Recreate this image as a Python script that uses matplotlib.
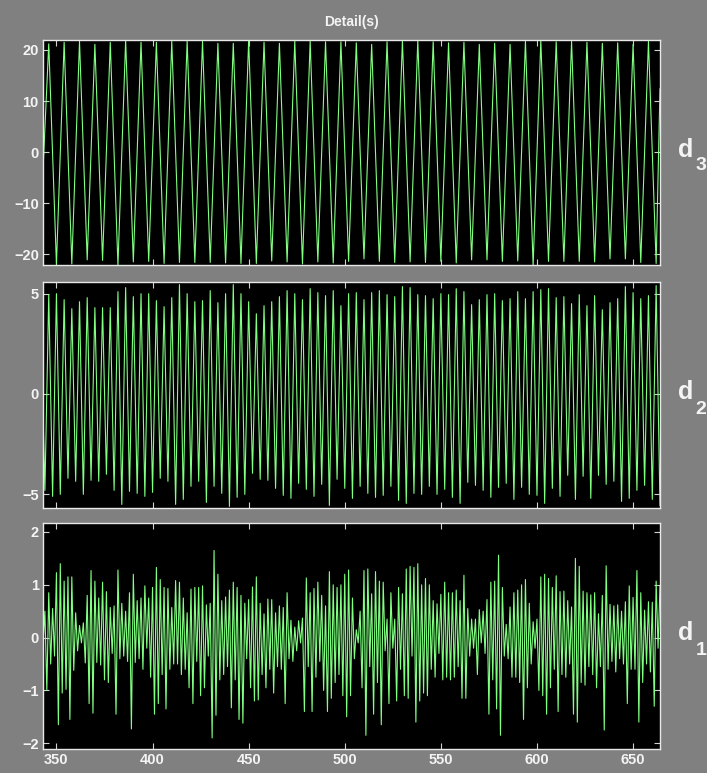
import numpy as np
import matplotlib
matplotlib.use("Agg")
import matplotlib.pyplot as plt

plt.rcParams['font.family'] = ['Liberation Sans', 'DejaVu Sans']

# ---- data ----------------------------------------------------------------
# d3 : turning points (sample index, value)
d3_start = (343, -3.6)
d3_peak_x0, d3_trough_x0, d3_step = 346, 350, 8
d3_peaks = [21.2, 21.5, 21.7, 21.1, 21.5, 21.9, 21.5, 21.5, 21.7, 21.7,
            21.7, 21.3, 21.3, 21.9, 21.5, 21.3, 21.7, 21.7, 21.6, 21.6,
            21.4, 21.1, 21.6, 21.9, 21.9, 21.6, 21.4, 21.5, 21.1, 21.3,
            21.1, 21.7, 21.9, 21.6, 21.7, 21.5, 21.3, 21.4, 21.1, 21.7]
d3_troughs = [-22.0, -21.9, -21.1, -21.2, -22.2, -21.5, -21.4, -21.8, -21.6, -21.6,
              -21.6, -21.7, -21.8, -21.8, -21.3, -21.5, -21.9, -21.5, -21.7, -21.4,
              -20.9, -21.4, -21.6, -21.5, -21.6, -21.4, -21.7, -21.1, -21.1, -21.4,
              -21.3, -22.2, -21.4, -21.4, -21.4, -21.5, -20.9, -20.9, -21.6, -21.8]
d3_end = (664, 12.4)

# d2 : turning points
d2_start = (343, -0.9)
d2_peak_x0, d2_trough_x0, d2_step = 346, 344, 4
d2_peaks = [4.95, 5.0, 4.7, 4.25, 4.6, 4.8, 4.3, 4.3, 4.3, 5.1,
            5.3, 4.85, 5.0, 5.0, 4.65, 4.35, 4.8, 5.45, 5.0, 4.6,
            4.65, 5.15, 4.55, 5.0, 5.45, 5.0, 4.6, 4.0, 4.4, 4.6,
            4.85, 5.15, 5.0, 4.7, 5.25, 5.05, 4.9, 5.15, 4.4, 5.0,
            5.05, 4.7, 5.05, 5.15, 4.95, 4.85, 5.35, 5.3, 4.95, 4.9,
            4.75, 5.0, 4.95, 5.25, 5.1, 4.45, 4.7, 4.95, 5.0, 4.65,
            4.75, 5.1, 4.75, 5.1, 5.2, 5.25, 4.8, 4.85, 4.5, 4.95,
            4.4, 4.9, 4.2, 4.55, 4.75, 5.35, 5.05, 4.75, 4.9, 5.4]
d2_troughs = [-4.8, -5.1, -5.0, -4.2, -4.35, -5.0, -4.3, -4.35, -4.0, -4.8,
              -5.5, -4.85, -4.95, -5.1, -4.9, -4.2, -4.35, -5.5, -5.25, -4.6,
              -4.35, -5.4, -4.6, -4.95, -5.6, -5.15, -5.0, -3.95, -4.25, -4.3,
              -4.7, -5.05, -5.2, -4.45, -4.75, -5.1, -4.5, -5.55, -4.25, -4.7,
              -5.2, -4.6, -4.95, -5.15, -5.05, -4.6, -5.3, -5.45, -4.95, -5.0,
              -4.6, -5.0, -4.75, -5.15, -5.45, -4.4, -4.55, -4.8, -5.15, -4.65,
              -4.45, -5.25, -4.65, -5.0, -5.05, -5.45, -4.7, -5.1, -4.05, -5.25,
              -4.1, -5.2, -4.05, -4.5, -4.35, -5.35, -5.2, -4.8, -4.55, -5.25]
d2_end = (664, -5.55)

# d1 : every sample, 343..664 (first value, then highs on even, lows on odd)
d1_first = -0.1
d1_highs = [0.5, 0.85, 0.55, 1.23, 1.4, 1.07, 1.15, 1.15, 0.47, 0.23,
            0.28, 0.8, 1.27, 1.07, 0.75, 1.05, 0.87, 0.57, 0.6, 1.28,
            0.65, 0.5, 0.85, 1.2, 0.7, 0.75, 0.98, 0.75, 0.95, 1.33,
            1.1, 0.95, 0.93, 0.57, 1.08, 1.05, 0.75, 0.47, 0.92, 0.95,
            0.95, 0.98, 0.62, 0.65, 1.65, 1.2, 0.7, 0.77, 0.9, 1.05,
            0.95, 0.8, 0.65, 0.72, 0.96, 1.15, 0.65, 0.45, 0.73, 0.72,
            0.47, 0.6, 0.57, 0.85, 0.33, 0.2, 0.32, 0.37, 1.13, 0.85,
            0.93, 1.05, 0.8, 0.6, 1.25, 1.0, 0.95, 1.0, 1.2, 1.28,
            0.75, 0.15, 0.5,
            1.27, 1.3, 0.83, 1.25, 1.07, 1.05, 0.35, 0.85, 0.35, 0.95,
            0.83, 1.3, 1.35, 1.33, 1.4, 1.0, 1.12, 1.0, 0.7, 0.64,
            0.82, 1.05, 0.85, 0.85, 0.9, 0.7, 1.18, 0.55, 0.35, 0.35,
            0.53, 0.5, 0.72, 1.05, 1.07, 1.56, 0.95, 0.25, 0.58, 0.85,
            0.9, 1.0, 1.1, 0.65, 0.3, 0.35, 1.15, 1.2, 1.12, 0.95,
            1.17, 0.87, 0.88, 0.7, 0.58, 1.5, 1.35, 0.88, 0.85, 0.81,
            0.85, 0.45, 0.8, 1.36, 0.63, 0.6, 0.62, 0.5, 0.68, 0.98,
            0.76, 1.27, 0.85, 0.52, 0.68, 0.67, 1.07, 0.97]
d1_lows = [-1.0, -0.5, -0.35, -1.65, -1.05, -0.98, -1.55, -0.62, -0.25, -0.1,
           -0.48, -1.25, -1.43, -0.47, -0.52, -0.8, -0.85, -0.3, -1.45, -0.4,
           -0.35, -0.45, -1.73, -0.47, -0.4, -0.6, -0.2, -0.75, -1.45, -1.25,
           -0.7, -1.35, -0.6, -0.5, -0.5, -0.7, -0.6, -0.95, -1.25, -0.45,
           -1.1, -0.95, -0.35, -1.9, -1.47, -0.8, -0.7, -0.55, -1.33, -0.8,
           -1.55, -1.62, -0.4, -0.95, -1.2, -1.18, -0.7, -0.95, -0.6, -1.05,
           -0.55, -0.6, -1.25, -0.4, -0.45, -0.25, -0.1, -1.4, -0.55, -1.4,
           -0.75, -0.45, -1.0, -1.4, -1.15, -0.85, -0.7, -1.1, -1.5, -1.1,
           -0.4, -0.1,
           -0.95, -1.85, -0.55, -1.45, -0.85, -1.65, -0.25, -1.25, -0.2, -1.2,
           -0.6, -1.1, -1.15, -0.35, -1.6, -1.2, -1.05, -1.1, -0.6, -0.75,
           -0.3, -0.8, -0.75, -0.8, -0.75, -0.55, -1.15, -1.15, -0.35, -0.2,
           -0.7, -0.1, -0.3, -1.45, -0.8, -1.35, -1.85, -0.35, -0.4, -0.75,
           -0.75, -0.85, -1.55, -0.95, -0.5, -0.2, -1.0, -1.1, -1.45, -0.95,
           -0.6, -1.4, -0.7, -0.75, -0.5, -1.45, -1.6, -0.85, -0.9, -0.55,
           -0.7, -0.95, -0.55, -1.75, -0.6, -0.45, -0.65, -0.4, -0.5, -1.25,
           -0.6, -0.6, -1.6, -0.85, -0.5, -0.65, -1.3, -0.2]

xticks = [350, 400, 450, 500, 550, 600, 650]
yticks = [[-20, -10, 0, 10, 20], [-5, 0, 5], [-2, -1, 0, 1, 2]]
ylims = [(-22.1, 21.96), (-5.68, 5.58), (-2.11, 2.17)]
names = ['3', '2', '1']
xlim = (343, 664)


def turning_points(start, p0, t0, step, peaks, troughs, end):
    pts = [start]
    pts += [(p0 + step * i, v) for i, v in enumerate(peaks)]
    pts += [(t0 + step * i, v) for i, v in enumerate(troughs)]
    pts.append(end)
    pts.sort()
    xy = np.array(pts)
    return xy[:, 0], xy[:, 1]


x3, y3 = turning_points(d3_start, d3_peak_x0, d3_trough_x0, d3_step, d3_peaks, d3_troughs, d3_end)
x2, y2 = turning_points(d2_start, d2_peak_x0, d2_trough_x0, d2_step, d2_peaks, d2_troughs, d2_end)

y1 = [d1_first]
for h, l in zip(d1_highs, d1_lows + [None]):
    y1.append(h)
    if l is not None:
        y1.append(l)
y1 = np.array(y1)
x1 = 343 + np.arange(len(y1))

series = [(x3, y3), (x2, y2), (x1, y1)]

# ---- figure ----------------------------------------------------------------
bg = '#808080'
green = '#80ff80'
fig = plt.figure(figsize=(7.07, 7.73), dpi=100, facecolor=bg)

boxes = [[0.0608, 0.6572, 0.8727, 0.2911],
         [0.0608, 0.3428, 0.8727, 0.2924],
         [0.0608, 0.0310, 0.8727, 0.2924]]
sub_y = [0.444, 0.438, 0.438]

for i, (box, (x, y)) in enumerate(zip(boxes, series)):
    ax = fig.add_axes(box)
    ax.set_facecolor('black')
    ax.plot(x, y, color=green, lw=0.8)
    ax.set_xlim(*xlim)
    ax.set_ylim(*ylims[i])
    ax.set_xticks(xticks)
    ax.set_yticks(yticks[i])
    ax.tick_params(direction='in', length=4, width=0.8, color='#d0d0d0',
                   labelcolor='#f4f4f4', labelsize=10.5, top=True, right=True, pad=3)
    for lab in ax.get_xticklabels() + ax.get_yticklabels():
        lab.set_fontweight('bold')
    if i < 2:
        ax.tick_params(labelbottom=False)
    for s in ax.spines.values():
        s.set_color('#e8e8e8')
        s.set_linewidth(1.0)
    ax.text(1.029, 0.512, 'd', transform=ax.transAxes, color='#f4f4f4',
            fontsize=18, fontweight='bold', ha='left', va='center')
    ax.text(1.058, sub_y[i], names[i], transform=ax.transAxes, color='#f4f4f4',
            fontsize=14, fontweight='bold', ha='left', va='center', clip_on=False)

fig.text(0.497, 0.9715, 'Detail(s)', color='#f4f4f4', fontsize=10,
         fontweight='bold', ha='center', va='center')

fig.savefig('out.png', dpi=100, facecolor=bg)
